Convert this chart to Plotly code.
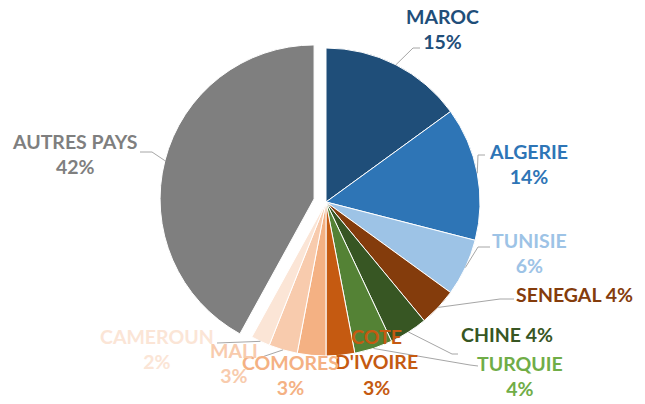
import math
import plotly.graph_objects as go

# ---------------- data ----------------
countries = ["MAROC", "ALGERIE", "TUNISIE", "SENEGAL", "CHINE", "TURQUIE",
             "COTE D'IVOIRE", "COMORES", "MALI", "CAMEROUN", "AUTRES PAYS"]
shares = [15, 14, 6, 4, 4, 4, 3, 3, 3, 2, 42]
pulls = [0, 0, 0, 0, 0, 0, 0, 0, 0, 0, 0.08]

# ---------------- style ----------------
slice_colors = ["#1F4E79", "#2E75B6", "#9DC3E6", "#843C0C", "#375623", "#548235",
                "#C55A11", "#F4B183", "#F8CBAD", "#FBE5D6", "#7F7F7F"]
text_colors = ["#1F4E79", "#2E75B6", "#9DC3E6", "#843C0C", "#375623", "#70AD47",
               "#C55A11", "#F4B183", "#F8CBAD", "#FBE5D6", "#7F7F7F"]
# label layout: text template, label centre (pixels)
label_fmt = ["{n}<br>{p}%", "{n}<br>{p}%", "{n}<br>{p}%", "{n} {p}%", "{n} {p}%",
             "{n}<br>{p}%", "COTE<br>D'IVOIRE<br>{p}%", "{n}<br>{p}%", "{n}<br>{p}%",
             "{n}<br>{p}%", "{n}<br>{p}%"]
label_pos = [(442, 29), (528, 164), (529, 253), (574, 294), (507, 334), (520, 376),
             (377, 362), (290, 375), (234, 363), (157, 349), (75, 154)]
# leader lines: (elbow, end) in pixels, None = no leader
leaders = [((413, 48), (420, 48)), ((478, 155), (485, 155)), ((478, 247), (490, 247)),
           ((500, 299), (514, 299)), ((452, 354), (458, 354)), ((470, 365), (478, 366)),
           None, None, ((262, 357), (262, 357)), ((217, 343), (217, 343)),
           ((152, 152), (140, 152))]

W, H = 645, 404
CX, CY, R = 326, 202, 154
maxpull = max(pulls)
half = R * (1 + maxpull)


def px(x, y):
    return x / W, 1 - y / H


fig = go.Figure(go.Pie(
    labels=countries, values=shares, pull=pulls, sort=False,
    direction="clockwise", rotation=0,
    marker=dict(colors=slice_colors, line=dict(color="white", width=1)),
    textinfo="none", hoverinfo="skip",
    domain=dict(x=[(CX - half) / W, (CX + half) / W],
                y=[1 - (CY + half) / H, 1 - (CY - half) / H]),
))

annotations = []
shapes = []
total = sum(shares)
cum = 0
for i, (n, v) in enumerate(zip(countries, shares)):
    mid = (cum + v / 2) / total * 2 * math.pi
    cum += v
    lx, ly = label_pos[i]
    ax, ay = px(lx, ly)
    annotations.append(dict(
        x=ax, y=ay, xref="paper", yref="paper", xanchor="center", yanchor="middle",
        text="<b>" + label_fmt[i].format(n=n, p=v) + "</b>", showarrow=False,
        font=dict(family="Lato", size=19.5, color=text_colors[i]), align="center"))
    if leaders[i] is not None:
        off = pulls[i] * R
        sx = CX + (R + off) * math.sin(mid)
        sy = CY - (R + off) * math.cos(mid)
        (ex, ey), (fx, fy) = leaders[i]
        p0, p1, p2 = px(sx, sy), px(ex, ey), px(fx, fy)
        path = "M {} {} L {} {} L {} {}".format(p0[0], p0[1], p1[0], p1[1], p2[0], p2[1])
        shapes.append(dict(type="path", xref="paper", yref="paper", path=path,
                           line=dict(color="#A6A6A6", width=1)))

fig.update_layout(
    width=W, height=H, autosize=False,
    margin=dict(l=0, r=0, t=0, b=0),
    paper_bgcolor="white", plot_bgcolor="white",
    showlegend=False, annotations=annotations, shapes=shapes,
)

fig.write_html("out.html", config={"displayModeBar": False},
               post_script="document.body.style.margin='0px';document.body.style.overflow='hidden';")
